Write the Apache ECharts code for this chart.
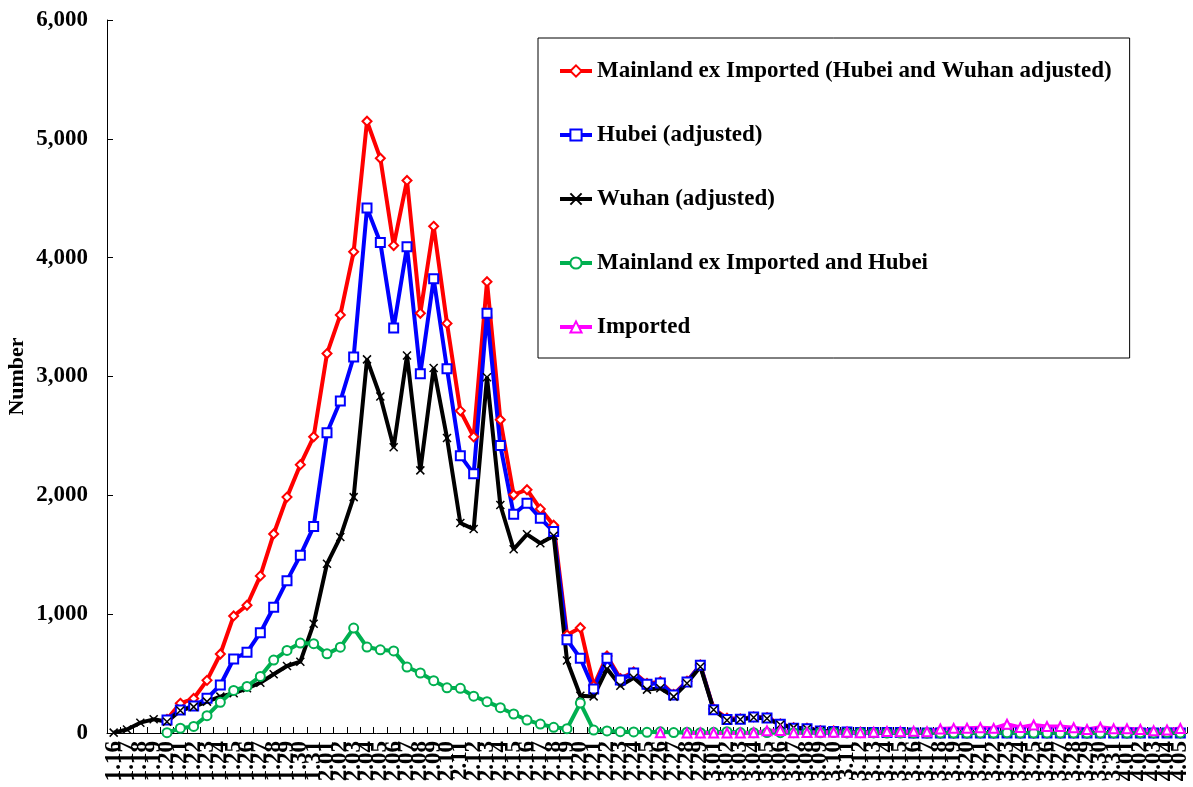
<!DOCTYPE html>
<html>
<head>
<meta charset="utf-8">
<script src="https://cdn.jsdelivr.net/npm/echarts@6/dist/echarts.min.js"></script>
<style>
html,body{margin:0;padding:0;background:#fff;}
#chart{width:1193px;height:787px;}
</style>
</head>
<body>
<div id="chart"></div>
<script>
var dates = ["1.16","1.17","1.18","1.19","1.20","1.21","1.22","1.23","1.24","1.25","1.26","1.27","1.28","1.29","1.30","1.31",
"2.01","2.02","2.03","2.04","2.05","2.06","2.07","2.08","2.09","2.10","2.11","2.12","2.13","2.14","2.15","2.16","2.17","2.18","2.19","2.20","2.21","2.22","2.23","2.24","2.25","2.26","2.27","2.28","2.29",
"3.01","3.02","3.03","3.04","3.05","3.06","3.07","3.08","3.09","3.10","3.11","3.12","3.13","3.14","3.15","3.16","3.17","3.18","3.19","3.20","3.21","3.22","3.23","3.24","3.25","3.26","3.27","3.28","3.29","3.30","3.31",
"4.01","4.02","4.03","4.04","4.05"];

var mainlandExImported = [null,null,null,null,115,250,290,443,665,985,1075,1322,1675,1985,2258,2493,
3193,3518,4050,5148,4836,4102,4650,3532,4264,3447,2711,2492,3798,2636,2005,2047,1886,1748,825,886,397,648,458,514,417,432,325,436,573,
202,125,119,136,130,77,44,40,19,17,9,8,5,4,4,1,1,0,0,0,1,0,4,0,0,1,0,1,0,0,1,
0,2,1,5,1];

var hubei = [null,null,null,null,110,194,227,292,404,623,679,844,1058,1282,1495,1737,
2527,2794,3164,4417,4127,3409,4092,3024,3822,3065,2334,2181,3533,2419,1841,1933,1807,1695,785,629,370,630,445,505,410,420,320,430,570,
196,114,115,134,126,74,41,36,17,13,8,5,4,4,4,1,1,0,0,0,0,0,1,0,0,0,0,0,0,0,0,
0,0,0,0,0];

var wuhan = [3,30,87,115,95,190,220,264,306,334,376,423,494,564,600,920,
1424,1649,1985,3144,2832,2404,3177,2210,3072,2483,1767,1716,2994,1919,1546,1672,1597,1660,610,313,308,540,397,465,365,376,306,418,558,
195,108,114,130,122,70,45,36,17,13,7,6,4,4,4,1,1,0,0,0,0,0,1,0,0,0,0,0,0,0,0,
0,0,0,0,0];

var mainlandExImportedHubei = [null,null,null,null,3,40,55,146,258,358,392,476,614,695,757,752,
666,722,883,723,700,691,555,505,440,380,376,310,264,213,160,109,75,48,36,252,25,17,11,9,6,10,4,7,3,
6,11,4,2,4,3,3,4,2,4,1,3,1,0,0,0,0,0,0,0,1,0,3,0,0,1,0,1,0,0,1,
0,2,1,5,1];

var imported = [null,null,null,null,null,null,null,null,null,null,null,null,null,null,null,null,
null,null,null,null,null,null,null,null,null,null,null,null,null,null,null,null,null,null,null,null,null,null,null,null,null,2,null,0,0,
0,0,0,2,18,22,3,4,6,6,6,3,7,12,10,14,10,34,39,41,45,39,74,47,67,54,54,44,30,48,35,
35,29,18,25,38];

var yTicks = [0,1000,2000,3000,4000,5000,6000];

var FONT = '"Liberation Serif","Times New Roman",serif';
var XSYM = 'path://M0,0L10,10M10,0L0,10';

function lineSeries(name, data, color, symbol, size, extra) {
  var s = {
    name: name, type: 'line', data: data,
    symbol: symbol, symbolSize: size, showAllSymbol: true,
    connectNulls: false,
    lineStyle: {width: 4, color: color},
    itemStyle: {color: color, borderWidth: 1.5},
    emphasis: {disabled: true}
  };
  if (extra) { for (var k in extra) s[k] = extra[k]; }
  return s;
}

var chart = echarts.init(document.getElementById('chart'), null, {renderer: 'canvas'});
chart.setOption({
  animation: false,
  backgroundColor: '#fff',
  grid: {left: 107, right: 6, top: 20, bottom: 54, containLabel: false, outerBoundsMode: 'none'},
  legend: {
    orient: 'vertical', left: 538, top: 38,
    padding: [20, 18, 18, 20],
    itemGap: 38, itemWidth: 32, itemHeight: 14,
    borderColor: '#000', borderWidth: 1,
    lineStyle: {width: 4},
    textStyle: {fontFamily: FONT, fontWeight: 'bold', fontSize: 23, color: '#000', lineHeight: 26},
    data: ['Mainland ex Imported (Hubei and Wuhan adjusted)', 'Hubei (adjusted)', 'Wuhan (adjusted)', 'Mainland ex Imported and Hubei', 'Imported']
  },
  xAxis: {
    type: 'category', data: dates, boundaryGap: true,
    axisLine: {show: true, lineStyle: {color: '#000', width: 1}},
    axisTick: {show: true, inside: true, length: 6, interval: 0, lineStyle: {color: '#000'}},
    axisLabel: {interval: 0, rotate: 90, margin: 8, hideOverlap: false,
      fontFamily: FONT, fontWeight: 'bold', fontSize: 23, color: '#000'},
    splitLine: {show: false}
  },
  yAxis: {
    type: 'value', min: yTicks[0], max: yTicks[yTicks.length - 1], interval: 1000,
    name: 'Number', nameLocation: 'middle', nameRotate: 90, nameGap: 79, nameMoveOverlap: false,
    nameTextStyle: {fontFamily: FONT, fontWeight: 'bold', fontSize: 22, color: '#000'},
    axisLine: {show: true, lineStyle: {color: '#000', width: 1}},
    axisTick: {show: true, inside: true, length: 6, lineStyle: {color: '#000'}},
    axisLabel: {margin: 19, fontFamily: FONT, fontWeight: 'bold', fontSize: 23, color: '#000',
      formatter: function (v) { return v.toLocaleString('en-US'); }},
    splitLine: {show: false}
  },
  series: [
    lineSeries('Mainland ex Imported (Hubei and Wuhan adjusted)', mainlandExImported, '#FF0000', 'emptyDiamond', 9),
    lineSeries('Hubei (adjusted)', hubei, '#0000FF', 'emptyRect', 9),
    lineSeries('Wuhan (adjusted)', wuhan, '#000000', XSYM, 8, {itemStyle: {color: '#000', borderColor: '#000', borderWidth: 1.5}}),
    lineSeries('Mainland ex Imported and Hubei', mainlandExImportedHubei, '#00B050', 'emptyCircle', 9),
    lineSeries('Imported', imported, '#FF00FF', 'emptyTriangle', 9)
  ]
});
</script>
</body>
</html>
